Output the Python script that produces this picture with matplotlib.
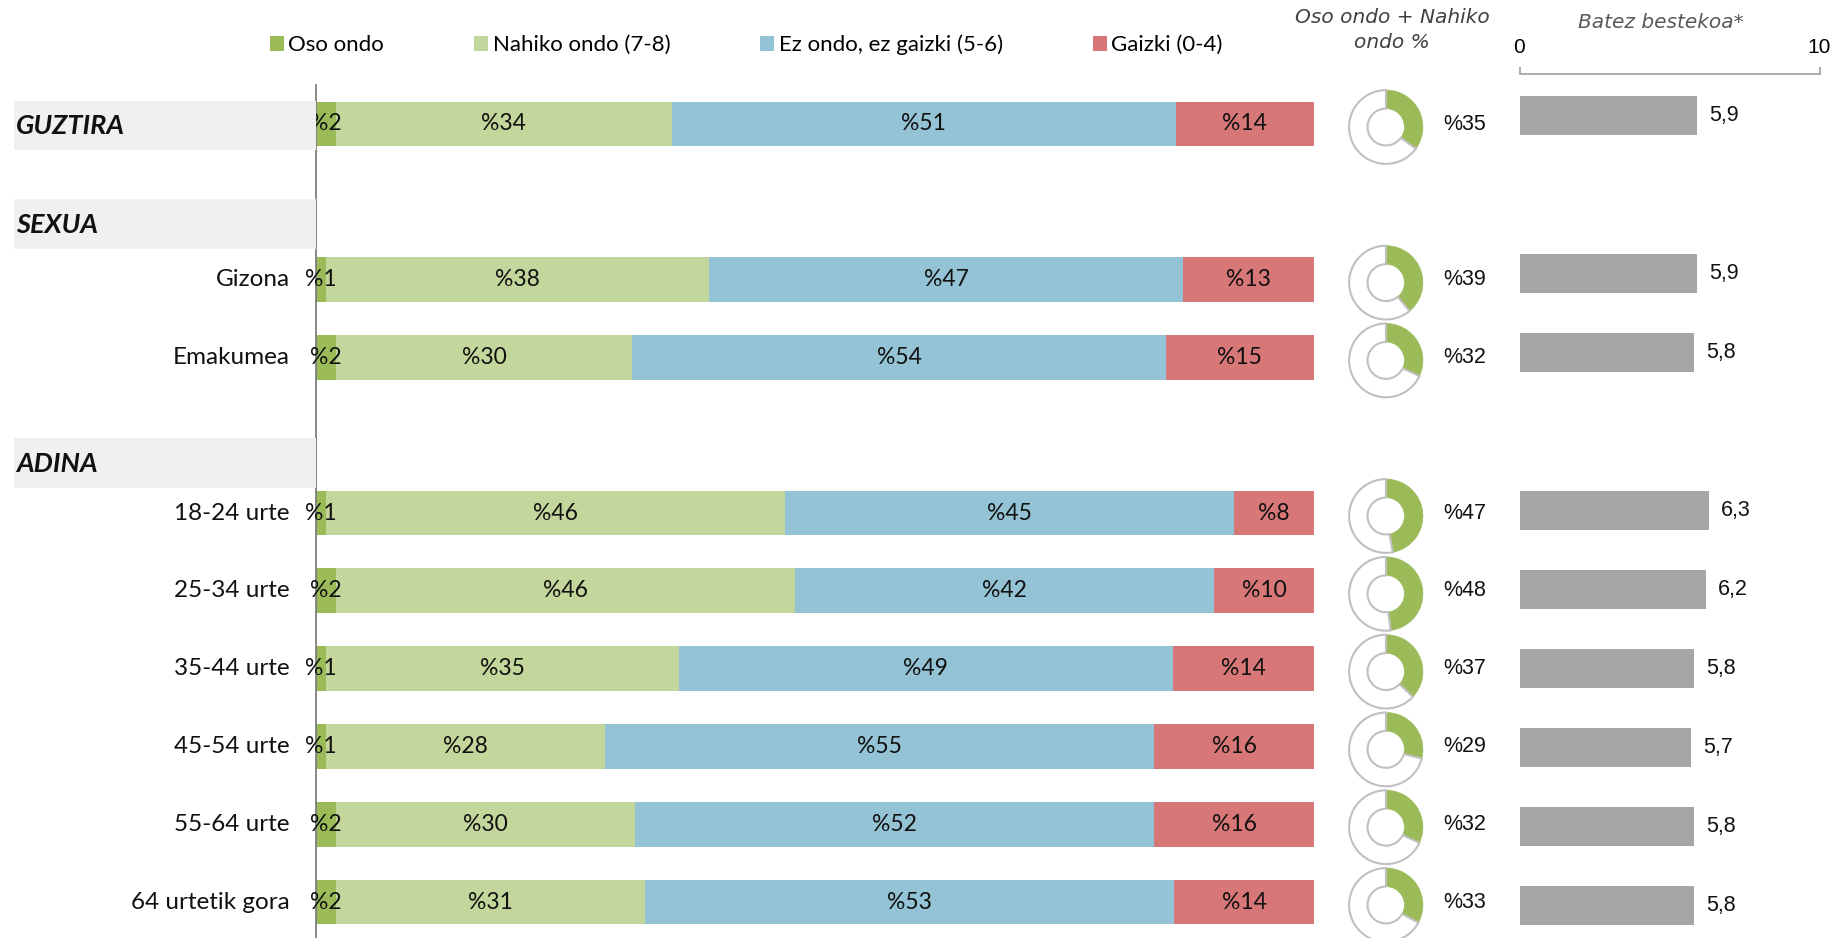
import matplotlib
matplotlib.use('Agg')
import matplotlib.pyplot as plt
from matplotlib.patches import Patch
import numpy as np

plt.rcParams['font.family'] = ['Lato', 'DejaVu Sans']

# ------------------------ data ------------------------
rows = ['GUZTIRA', 'Gizona', 'Emakumea', '18-24 urte', '25-34 urte',
        '35-44 urte', '45-54 urte', '55-64 urte', '64 urtetik gora']
row_pos = [0, 2, 3, 5, 6, 7, 8, 9, 10]
headers = ['GUZTIRA', 'SEXUA', 'ADINA']
header_pos = [0, 1.27, 4.34]

oso = [2, 1, 2, 1, 2, 1, 1, 2, 2]
nahiko = [34, 38, 30, 46, 46, 35, 28, 30, 31]
ez = [51, 47, 54, 45, 42, 49, 55, 52, 53]
gaizki = [14, 13, 15, 8, 10, 14, 16, 16, 14]
ondo_pct = [35, 39, 32, 47, 48, 37, 29, 32, 33]
batez = [5.9, 5.9, 5.8, 6.3, 6.2, 5.8, 5.7, 5.8, 5.8]

cat_names = ['Oso ondo', 'Nahiko ondo (7-8)', 'Ez ondo, ez gaizki (5-6)', 'Gaizki (0-4)']
cat_colors = ['#9bbb59', '#c3d69b', '#93c3d5', '#d87777']

W, H = 1846, 938
fig = plt.figure(figsize=(W / 100, H / 100), dpi=100)

# ------------------------ stacked 100% bars ------------------------
ax = fig.add_axes([316 / W, 0, (1314 - 316) / W, (938 - 85) / H])
ylim = ((938 - 124) / 77.8, -(124 - 85) / 77.8)
ax.set_ylim(*ylim)
ax.set_xlim(0, 100)

vals = np.array([oso, nahiko, ez, gaizki], dtype=float)
shares = 100 * vals / vals.sum(axis=0)
left = np.zeros(len(rows))
for i in range(4):
    ax.barh(row_pos, shares[i], left=left, height=0.575, color=cat_colors[i], linewidth=0)
    for y, l, w, v in zip(row_pos, left, shares[i], vals[i]):
        ax.text(l + w / 2, y, '%' + str(int(v)), ha='center', va='center', fontsize=16.5, color='#111111')
    left += shares[i]

for s in ['top', 'right', 'bottom']:
    ax.spines[s].set_visible(False)
ax.spines['left'].set_color('#7f7f7f')
ax.spines['left'].set_linewidth(1.3)
ax.set_xticks([])
ax.set_yticks([])
ax.patch.set_alpha(0)

# ------------------------ left labels ------------------------
axl = fig.add_axes([0, 0, 316 / W, (938 - 85) / H])
axl.set_xlim(0, 316)
axl.set_ylim(*ylim)
axl.axis('off')
for name, p in zip(headers, header_pos):
    axl.axhspan(p - 0.3, p + 0.34, xmin=14 / 316, xmax=1, color='#f0f0f0', zorder=0, lw=0)
    axl.text(16, p + 0.03, name, ha='left', va='center', fontsize=19.5,
             fontweight='bold', style='italic', color='#111111')
for name, p in zip(rows[1:], row_pos[1:]):
    axl.text(290, p, name, ha='right', va='center', fontsize=17.5, color='#111111')

# ------------------------ legend ------------------------
handles = [Patch(facecolor=c, edgecolor='none') for c in cat_colors]
fig.legend(handles, cat_names, loc='center left', bbox_to_anchor=(270 / W, 1 - 45 / H),
           ncol=4, frameon=False, fontsize=16, handlelength=0.63, handleheight=0.63,
           handletextpad=0.2, columnspacing=4.05, borderaxespad=0, borderpad=0)

# ------------------------ donuts ------------------------
for p, pct in zip(row_pos, ondo_pct):
    cy = ax.transData.transform((0, p))[1] - 3
    D = 76
    dp = fig.add_axes([(1386 - D / 2) / W, (cy - D / 2) / H, D / W, D / H])
    wedges, _ = dp.pie([pct, 100 - pct], startangle=90, counterclock=False,
                       colors=['#9bbb59', 'white'], radius=1,
                       wedgeprops=dict(width=0.5, edgecolor='#c0c0c0', linewidth=1.5))
    wedges[0].set_edgecolor('#9bbb59')
    wedges[0].set_linewidth(0.5)
    dp.set_xlim(-1.03, 1.03)
    dp.set_ylim(-1.03, 1.03)
    dp.text(1.545, 0.08, '%' + str(pct), ha='left', va='center', fontsize=15.5,
            family='Liberation Sans', color='#111111', clip_on=False)

fig.text(1392 / W, 1 - 30 / H, 'Oso ondo + Nahiko\nondo %', ha='center', va='center',
         fontsize=14.5, style='italic', color='#404040', family='DejaVu Sans', linespacing=1.35)

# ------------------------ mean bars ------------------------
axm = fig.add_axes([1519.5 / W, 0, 300 / W, (938 - 74) / H])
axm.set_xlim(0, 10)
axm.set_ylim((938 - 115.5) / 79, -(115.5 - 74) / 79)
axm.barh(row_pos, batez, height=0.5, color='#a6a6a6', linewidth=0)
for p, v in zip(row_pos, batez):
    axm.text(v + 0.42, p, f'{v:.1f}'.replace('.', ','), ha='left', va='center',
             fontsize=15.5, family='Liberation Sans', color='#111111')
for s in ['bottom', 'left', 'right']:
    axm.spines[s].set_visible(False)
axm.spines['top'].set_color('#a6a6a6')
axm.spines['top'].set_linewidth(1.3)
axm.xaxis.tick_top()
axm.set_xticks([0, 10])
axm.set_xticklabels(['0', '10'], family='Liberation Sans', fontsize=15)
axm.tick_params(axis='x', direction='out', length=5, width=1.3, color='#a6a6a6', pad=7)
axm.set_yticks([])
axm.patch.set_alpha(0)

fig.text(1661 / W, 1 - 22 / H, 'Batez bestekoa*', ha='center', va='center',
         fontsize=14.5, style='italic', color='#595959', family='DejaVu Sans')

fig.savefig('out.png', dpi=100)
